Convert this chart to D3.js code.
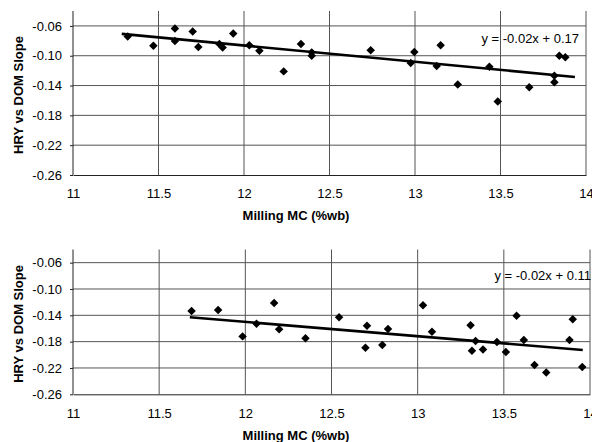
<!DOCTYPE html>
<html>
<head>
<meta charset="utf-8">
<script src="https://cdn.jsdelivr.net/npm/d3@7"></script>
<style>
body { margin: 0; background: #fff; }
svg { display: block; font-family: "Liberation Sans", Arial, sans-serif; }
</style>
</head>
<body>
<svg id="chart" width="592" height="442"></svg>
<script>
// top panel points: [Milling MC, slope]
const topX = [11.32, 11.47, 11.596, 11.596, 11.70, 11.733, 11.856, 11.875, 11.937, 12.031,
              12.09, 12.232, 12.333, 12.396, 12.396, 12.741, 12.975, 12.996, 13.127, 13.15,
              13.25, 13.435, 13.484, 13.668, 13.815, 13.815, 13.844, 13.879];
const topY = [-0.0743, -0.0867, -0.0636, -0.0804, -0.0676, -0.0884, -0.0844, -0.0889, -0.0703, -0.0858,
              -0.0933, -0.121, -0.0844, -0.0955, -0.100, -0.0925, -0.1098, -0.0951, -0.1138, -0.0858,
              -0.1387, -0.1147, -0.1613, -0.1422, -0.1267, -0.1356, -0.100, -0.1022];
const topTrend = { slope: -0.0218, intercept: 0.1753, from: 11.285, to: 13.935 };
const topLabel = "y = -0.02x + 0.17";

// bottom panel points
const botX = [11.688, 11.842, 11.984, 12.065, 12.167, 12.196, 12.349, 12.544, 12.697, 12.706,
              12.795, 12.828, 13.031, 13.083, 13.307, 13.315, 13.336, 13.379, 13.46, 13.512,
              13.574, 13.616, 13.678, 13.746, 13.881, 13.9, 13.955];
const botY = [-0.1335, -0.132, -0.172, -0.1528, -0.1213, -0.1613, -0.175, -0.143, -0.1893, -0.1558,
              -0.1852, -0.1609, -0.1248, -0.165, -0.1552, -0.1938, -0.179, -0.1918, -0.1806, -0.1958,
              -0.1406, -0.1776, -0.2156, -0.2267, -0.1776, -0.146, -0.2186];
const botTrend = { slope: -0.02175, intercept: 0.111, from: 11.678, to: 13.958 };
const botLabel = "y = -0.02x + 0.11";

const xTicks = [11, 11.5, 12, 12.5, 13, 13.5, 14];
const yTicks = [-0.26, -0.22, -0.18, -0.14, -0.10, -0.06];
const xTitle = "Milling MC (%wb)";
const yTitle = "HRY vs DOM Slope";

const svg = d3.select("#chart");

function drawPanel(xs, ys, trend, label, box) {
    const x = d3.scaleLinear().domain([11, 14]).range([box.left, box.right]);
    const y = d3.scaleLinear().domain([-0.26, -0.04]).range([box.bottom, box.top]);
    const g = svg.append("g");

    // horizontal grid
    g.selectAll(".hg").data(yTicks.slice(1)).enter().append("line")
        .attr("x1", box.left).attr("x2", box.right)
        .attr("y1", d => y(d)).attr("y2", d => y(d))
        .attr("stroke", "#555").attr("stroke-width", 1);
    // vertical grid
    g.selectAll(".vg").data(xTicks.slice(1)).enter().append("line")
        .attr("x1", d => x(d)).attr("x2", d => x(d))
        .attr("y1", box.top).attr("y2", box.bottom)
        .attr("stroke", "#555").attr("stroke-width", 1);

    // axes
    const ax = g.append("g").attr("transform", `translate(0,${box.bottom})`)
        .call(d3.axisBottom(x).tickValues(xTicks).tickSize(0).tickPadding(14).tickFormat(d3.format("")));
    ax.select(".domain").attr("stroke", "#222");
    ax.selectAll("text").style("font-size", "13px").attr("fill", "#000")
        .attr("font-family", "Liberation Sans, Arial, sans-serif");

    const ay = g.append("g").attr("transform", `translate(${box.left},0)`)
        .call(d3.axisLeft(y).tickValues(yTicks).tickSize(3).tickPadding(8).tickFormat(d3.format(".2f")));
    ay.select(".domain").attr("d", `M0,${box.top}V${box.bottom}`).attr("stroke", "#222");
    ay.selectAll("line").attr("stroke", "#222");
    ay.selectAll("text").style("font-size", "13px").attr("fill", "#000")
        .attr("font-family", "Liberation Sans, Arial, sans-serif")
        .text(d => d3.format(".2f")(d).replace("−", "-"));

    // trend line
    g.append("line")
        .attr("x1", x(trend.from)).attr("y1", y(trend.slope * trend.from + trend.intercept))
        .attr("x2", x(trend.to)).attr("y2", y(trend.slope * trend.to + trend.intercept))
        .attr("stroke", "#000").attr("stroke-width", 2.6);

    // points (square turned 45deg)
    g.selectAll(".pt").data(xs.map((v, i) => [v, ys[i]])).enter().append("path")
        .attr("d", d3.symbol().type(d3.symbolSquare).size(36))
        .attr("transform", d => `translate(${x(d[0])},${y(d[1])}) rotate(45)`)
        .attr("fill", "#000");

    // equation
    g.append("text")
        .attr("x", box.eqX).attr("y", box.eqY)
        .attr("text-anchor", "end")
        .style("font-size", "13px").attr("fill", "#000")
        .text(label);

    // titles
    g.append("text")
        .attr("x", 296).attr("y", box.xTitleY)
        .attr("text-anchor", "middle")
        .style("font-size", "13px").style("font-weight", "bold")
        .text(xTitle);
    g.append("text")
        .attr("transform", `translate(23,${(box.top + box.bottom) / 2 + 2}) rotate(-90)`)
        .attr("text-anchor", "middle")
        .style("font-size", "13px").style("font-weight", "bold")
        .text(yTitle);
}

drawPanel(topX, topY, topTrend, topLabel,
    { left: 73, right: 586, top: 11, bottom: 175, eqX: 579, eqY: 43, xTitleY: 220 });
drawPanel(botX, botY, botTrend, botLabel,
    { left: 73, right: 590, top: 249.5, bottom: 394.3, eqX: 591, eqY: 280, xTitleY: 440 });
</script>
</body>
</html>
